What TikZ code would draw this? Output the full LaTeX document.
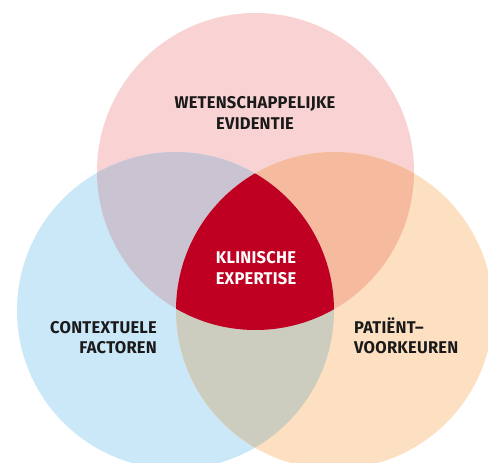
\documentclass[tikz,border=0pt]{standalone}
\usepackage{fontspec}
\newfontfamily\labfont[LetterSpace=1.5]{Fira Sans}
\definecolor{cpink}{HTML}{F9D3D3}
\definecolor{cblue}{HTML}{CBE8F9}
\definecolor{corange}{HTML}{FDDFC2}
\definecolor{cpb}{HTML}{CAC3D2}
\definecolor{cpo}{HTML}{F6BA9E}
\definecolor{cbo}{HTML}{CDCDBF}
\definecolor{cred}{HTML}{C00022}
\definecolor{ctext}{HTML}{1A1A1A}
\tikzset{
  lab/.style={font=\labfont\bfseries\fontsize{17}{20}\selectfont, text=ctext, inner sep=0pt, xscale=0.97},
  labw/.style={lab, text=white},
}
\begin{document}
\begin{tikzpicture}[x=1pt,y=-1pt]
\useasboundingbox (0,0) rectangle (488,463);
\clip (0,0) rectangle (488,463);
\def\R{158.5}
\coordinate (ct) at (255.5,171.5);
\coordinate (cl) at (175.5,310.5);
\coordinate (cr) at (334.5,310.5);
\fill[cpink] (ct) circle (\R);
\fill[cblue] (cl) circle (\R);
\fill[corange] (cr) circle (\R);
\begin{scope}
  \clip (ct) circle (\R);
  \fill[cpb] (cl) circle (\R);
  \fill[cpo] (cr) circle (\R);
\end{scope}
\begin{scope}
  \clip (cl) circle (\R);
  \fill[cbo] (cr) circle (\R);
\end{scope}
\begin{scope}
  \clip (ct) circle (\R);
  \clip (cl) circle (\R);
  \fill[cred] (cr) circle (\R);
\end{scope}
\node[lab, anchor=base] (w1) at (255,108) {WETENSCHAPPELIJKE};
\node[lab, anchor=base] (w2) at (255,129) {EVIDENTIE};
\node[labw, anchor=base] (k1) at (256,263) {KLINISCHE};
\node[labw, anchor=base] (k2) at (256,284) {EXPERTISE};
\node[lab, anchor=base east] (c1) at (157,333) {CONTEXTUELE};
\node[lab, anchor=base east] (c2) at (157,353) {FACTOREN};
\node[lab, anchor=base west] (p1) at (354,333) {PATIËNT–};
\node[lab, anchor=base west] (p2) at (354,353) {VOORKEUREN};
\end{tikzpicture}
\end{document}
